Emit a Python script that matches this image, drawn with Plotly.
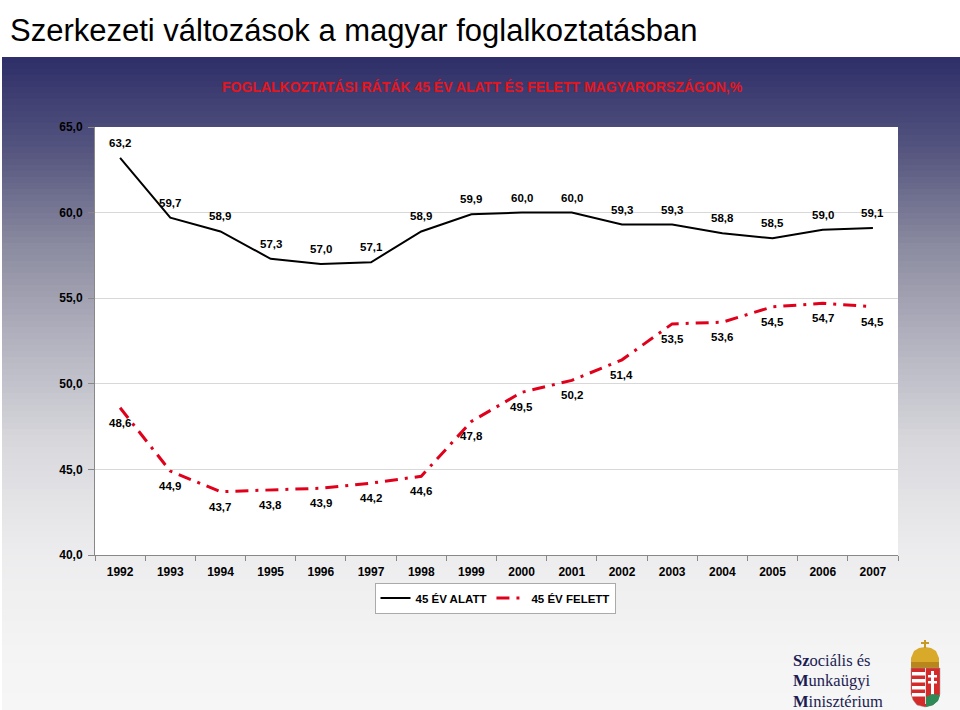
import plotly.graph_objects as go

years = [str(y) for y in range(1992, 2008)]
under45 = [63.2, 59.7, 58.9, 57.3, 57.0, 57.1, 58.9, 59.9, 60.0, 60.0, 59.3, 59.3, 58.8, 58.5, 59.0, 59.1]
over45 = [48.6, 44.9, 43.7, 43.8, 43.9, 44.2, 44.6, 47.8, 49.5, 50.2, 51.4, 53.5, 53.6, 54.5, 54.7, 54.5]
series_names = ["45 ÉV ALATT", "45 ÉV FELETT"]
y_ticks = [40, 45, 50, 55, 60, 65]

W, H = 960, 710
L, R, T, B = 95, 62, 127, 155
PW, PH = W - L - R, H - T - B

SANS = "Liberation Sans, Arial"


def X(px):
    return (px - L) / PW


def Y(py):
    return (H - B - py) / PH


def fmt(v):
    return f"{v:.1f}".replace(".", ",")


fig = go.Figure()
fig.add_trace(go.Scatter(
    x=years, y=under45, name=series_names[0], mode="lines",
    line=dict(color="black", width=2),
))
fig.add_trace(go.Scatter(
    x=years, y=over45, name=series_names[1], mode="lines",
    line=dict(color="#e0001b", width=3, dash="13px,7px,3px,7px"),
))

label_font = dict(family=SANS, size=11.5, color="black", weight="bold")
annotations = []
for i, v in enumerate(under45):
    annotations.append(dict(x=i, y=v, xref="x", yref="y", text=fmt(v), showarrow=False,
                            yshift=15, font=label_font))
for i, v in enumerate(over45):
    annotations.append(dict(x=i, y=v, xref="x", yref="y", text=fmt(v), showarrow=False,
                            yshift=-15, font=label_font))

# background gradient strips
stops = [(57, (0x2e, 0x2e, 0x68)), (150, (0x55, 0x55, 0x7f)), (250, (0x8d, 0x8d, 0xa2)),
         (350, (0xb6, 0xb6, 0xc2)), (450, (0xda, 0xda, 0xde)), (550, (0xec, 0xec, 0xee)),
         (650, (0xf4, 0xf4, 0xf4)), (710, (0xf6, 0xf6, 0xf6))]


def col_at(py):
    for (a, ca), (b, cb) in zip(stops[:-1], stops[1:]):
        if a <= py <= b:
            t = (py - a) / (b - a)
            c = [round(ca[k] + (cb[k] - ca[k]) * t) for k in range(3)]
            return "rgb(%d,%d,%d)" % tuple(c)
    return "rgb(246,246,246)"


shapes = []
step = 6
py = 57
while py < H:
    shapes.append(dict(type="rect", xref="paper", yref="paper", layer="below",
                       x0=X(2), x1=X(W), y0=Y(py), y1=Y(min(py + step + 1, H)),
                       fillcolor=col_at(py + step / 2), line=dict(width=0)))
    py += step
# white plot area
shapes.append(dict(type="rect", xref="paper", yref="paper", layer="below",
                   x0=0, x1=1, y0=0, y1=1, fillcolor="white", line=dict(width=0)))


# coat of arms
def P(points):
    return "M " + " L ".join(f"{X(a):.5f},{Y(b):.5f}" for a, b in points) + " Z"


def rect(x0, y0, x1, y1, color):
    shapes.append(dict(type="rect", xref="paper", yref="paper", layer="above",
                       x0=X(x0), x1=X(x1), y0=Y(y1), y1=Y(y0), fillcolor=color, line=dict(width=0)))


shapes.append(dict(type="path", xref="paper", yref="paper", layer="above",
                   path=P([(911, 668), (911, 658), (914, 651), (919, 648), (925, 647), (931, 648),
                           (936, 651), (939, 658), (939, 668)]),
                   fillcolor="#d9a92a", line=dict(width=0)))
rect(911, 662, 939, 668, "#b8861a")
rect(924, 640, 926, 648, "#c99a22")
rect(921, 642, 929, 644, "#c99a22")
shapes.append(dict(type="path", xref="paper", yref="paper", layer="above",
                   path=P([(911, 668), (940, 668), (940, 694), (938, 700), (933, 705), (925, 707),
                           (917, 705), (913, 700), (911, 694)]),
                   fillcolor="#d42a2a", line=dict(color="#999999", width=0.5)))
for yy in (672, 679, 686, 693):
    rect(912, yy, 925, yy + 3.5, "white")
rect(925, 668, 926, 704, "#dddddd")
rect(931, 671, 934, 697, "white")
rect(928, 675, 937, 677.5, "white")
rect(928, 681, 937, 683.5, "white")
shapes.append(dict(type="path", xref="paper", yref="paper", layer="above",
                   path=P([(926, 697), (932, 694), (940, 695), (938, 701), (933, 705), (926, 707)]),
                   fillcolor="#2e8b57", line=dict(width=0)))

annotations += [
    dict(text="Szerkezeti változások a magyar foglalkoztatásban", xref="paper", yref="paper",
         x=X(8), y=Y(31), xanchor="left", yanchor="middle", showarrow=False,
         font=dict(family=SANS, size=31, color="black")),
    dict(text="FOGLALKOZTATÁSI RÁTÁK 45 ÉV ALATT ÉS FELETT MAGYARORSZÁGON,%", xref="paper", yref="paper",
         x=X(482), y=Y(87), xanchor="center", yanchor="middle", showarrow=False,
         font=dict(family=SANS, size=14, color="#e8141c", weight="bold")),
]
for i, (bold, rest) in enumerate([("Sz", "ociális és"), ("M", "unkaügyi"), ("M", "inisztérium")]):
    annotations.append(dict(text=f"<b>{bold}</b>{rest}", xref="paper", yref="paper",
                            x=X(791), y=Y(660 + i * 20.5), xanchor="left", yanchor="middle",
                            showarrow=False,
                            font=dict(family="Liberation Serif, DejaVu Serif", size=16.5, color="#1c1c52")))

axis_font = dict(family=SANS, size=12, color="black", weight="bold")
fig.update_layout(
    width=W, height=H,
    margin=dict(l=L, r=R, t=T, b=B, autoexpand=False),
    paper_bgcolor="white", plot_bgcolor="white",
    separators=",.",
    shapes=shapes, annotations=annotations,
    showlegend=True,
    legend=dict(orientation="h", x=X(495), y=Y(598), xanchor="center", yanchor="middle",
                bgcolor="white", bordercolor="#aaaaaa", borderwidth=1,
                font=dict(family=SANS, size=11.5, color="black", weight="bold"),
                itemwidth=30, tracegroupgap=0),
    xaxis=dict(type="category", tickson="boundaries", ticks="outside", ticklen=5,
               tickcolor="#888888", showline=True, linecolor="#888888", linewidth=1,
               showgrid=False, tickfont=axis_font, range=[-0.5, 15.5], ticklabelstandoff=6),
    yaxis=dict(range=[40, 65], tickvals=y_ticks, tickformat=".1f", ticks="outside", ticklen=6,
               tickcolor="#888888", showline=True, linecolor="#888888", linewidth=1,
               showgrid=True, gridcolor="#d8d8d8", gridwidth=1, zeroline=False,
               tickfont=axis_font, ticklabelstandoff=3),
)

fig.write_html("out.html", config={"displayModeBar": False},
               post_script="document.body.style.margin='0';")
